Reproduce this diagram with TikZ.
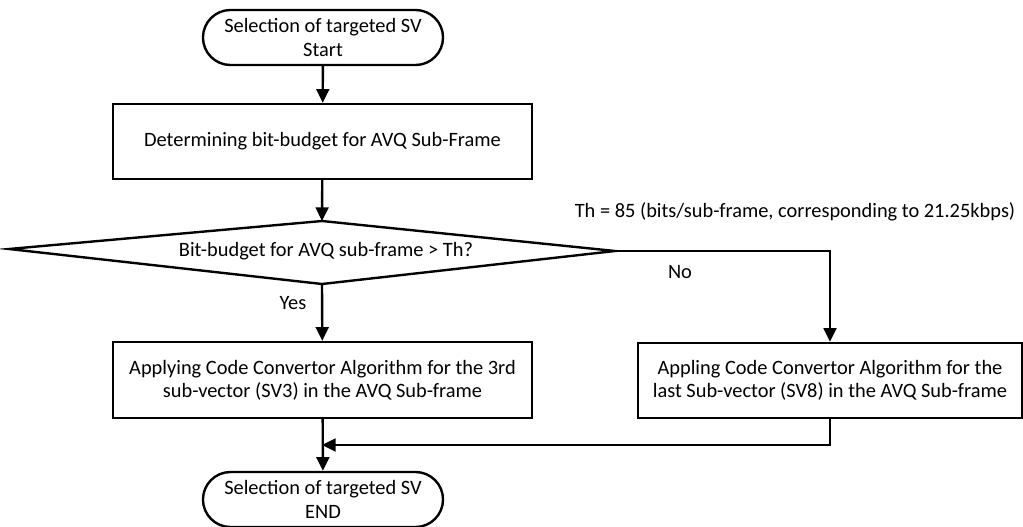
\documentclass[tikz,border=0pt]{standalone}
\usepackage{fontspec}
\setmainfont{Carlito}
\usepackage{tikz}
\usetikzlibrary{arrows.meta,positioning,shapes.misc,calc}
\tikzset{every node/.append style={font=\fontsize{14.5}{16.5}\selectfont}}
\tikzset{
  term/.style={draw,line width=1.7pt,rounded rectangle,minimum width=6cm,minimum height=1.375cm,align=center,inner sep=0pt},
  proc/.style={draw,line width=1.7pt,rectangle,align=center,inner sep=0pt},
  flow/.style={line width=1.7pt,-{Triangle[length=0.34cm,width=0.32cm]}}
}

\begin{document}
\begin{tikzpicture}[x=0.025cm,y=-0.025cm]
      \useasboundingbox (0,0) rectangle (1023,526);
      \node[term] at (323,37.5) (start) {Selection of targeted SV\\Start};
      \node[proc,minimum width=10.475cm,minimum height=1.875cm] at (322.5,141.5) (det) {Determining bit-budget for AVQ Sub-Frame};

      % decision
      \coordinate (dT) at (322,221);
      \coordinate (dR) at (615,251);
      \coordinate (dB) at (322,284);
      \coordinate (dL) at (9,249);
      \draw[line width=1.7pt,line join=miter] (dT)--(dR)--(dB)--(dL)--cycle;
      \node at (326,251) (dec) {Bit-budget for AVQ sub-frame > Th?};
      \node at (795,212) (th) {Th = 85 (bits/sub-frame, corresponding to 21.25kbps)};

      \node[proc,minimum width=10.475cm,minimum height=1.9cm] at (322.5,380) (conv3) {Applying Code Convertor Algorithm for the 3rd\\sub-vector (SV3) in the AVQ Sub-frame};
      \node[proc,minimum width=9.6cm,minimum height=1.875cm] at (830,380.5) (conv8) {Appling Code Convertor Algorithm for the\\last Sub-vector (SV8) in the AVQ Sub-frame};
      \node at (293,303) (yes) {Yes};
      \node at (680,272) (no) {No};

      \node[term] at (323,499.5) (stop) {Selection of targeted SV\\END};
      \coordinate (join) at (322,445);

      \draw[flow] (start)--(det);
      \draw[flow] (det)--(dT);
      \draw[flow] (dB)--(conv3);
      \draw[flow] (dR)-|(conv8);
      \draw[flow] (conv8.south)|-(join);
      \draw[flow] (conv3)--(stop);
\end{tikzpicture}
\end{document}
